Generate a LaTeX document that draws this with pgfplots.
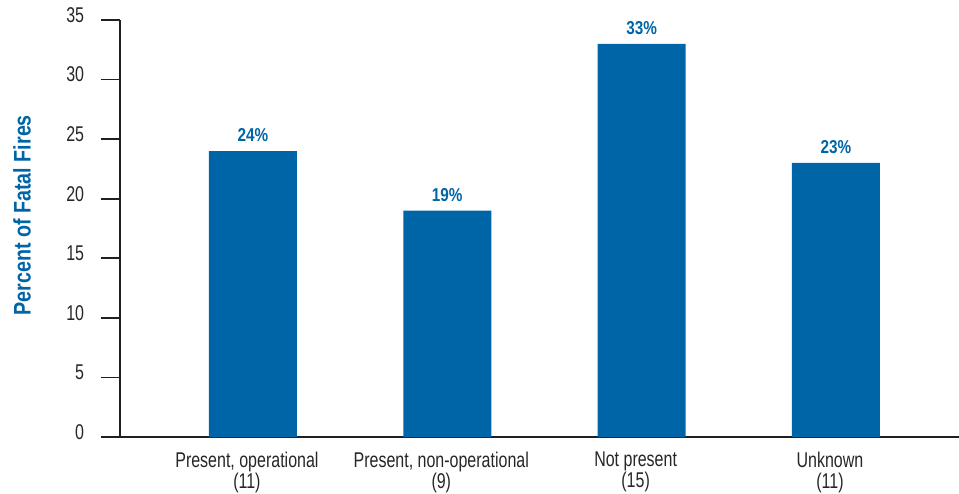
\documentclass[border=0pt]{standalone}
\usepackage{pgfplots}
\pgfplotsset{compat=1.18}
\usepackage{fontspec}
\setmainfont{Liberation Sans}[FakeStretch=0.75, BoldFeatures={FakeStretch=0.82}]
\definecolor{barblue}{HTML}{0065A6}
\definecolor{axisgray}{HTML}{231F20}
\begin{document}
\begin{tikzpicture}
\useasboundingbox (-90pt,-42pt) rectangle (629.25pt,327.75pt);
\begin{axis}[
  at={(0,0)}, anchor=south west,
  scale only axis,
  width=629.25pt, height=312.75pt,
  xmin=-0.684, xmax=3.633,
  ymin=0, ymax=35,
  axis x line*=bottom, axis y line*=left,
  axis line style={color=axisgray, line width=1.1pt},
  /pgf/number format/assume math mode=true,
  ytick={0,5,10,15,20,25,30,35},
  xtick={0,1,2,3},
  xticklabels={{Present, operational\\(11)},{Present, non-operational\\(9)},{Not present\\(15)},{Unknown\\(11)}},
  xtick style={draw=none},
  ytick style={draw=axisgray, line width=1.3pt},
  major tick style={draw=axisgray, line width=1.3pt},
  tick align=outside,
  major tick length=14.25pt,
  tick label style={font=\fontsize{16}{15.75}\selectfont, color=black!85},
  yticklabel style={anchor=east, inner sep=0pt, xshift=-12.5pt, yshift=3.75pt},
  xticklabel style={align=center, anchor=north, inner sep=0pt, yshift=3.25pt, xshift=-4.5pt},
  every axis y label/.style={at={(axis description cs:-0.1168,0.532)}, rotate=90, anchor=center},
  ylabel={Percent of Fatal Fires},
  ylabel style={font=\bfseries\fontsize{18}{20}\selectfont, color=barblue},
  ybar, bar width=66pt,
  clip=false,
  nodes near coords={\pgfmathprintnumber{\pgfplotspointmeta}\%},
  every node near coord/.append style={font=\bfseries\fontsize{14}{16}\selectfont, color=barblue, anchor=south, inner sep=0pt, yshift=6.75pt},
]
\addplot[fill=barblue, draw=none] coordinates {(0,24) (1,19) (2,33) (3,23)};
\end{axis}
\end{tikzpicture}
\end{document}
